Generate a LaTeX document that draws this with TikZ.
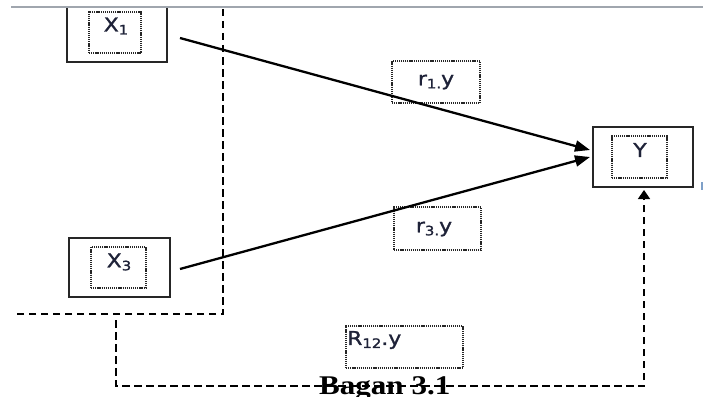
\documentclass[tikz,border=0pt]{standalone}
\usepackage{fontspec}
\usetikzlibrary{arrows.meta}
\newfontfamily\labfont[FakeStretch=1.15,FakeBold=1.3]{DejaVu Sans}
\newfontfamily\capfont[FakeStretch=1.15]{Liberation Serif}
\newcommand\sbx[1]{\raisebox{-3pt}{\fontsize{13}{13}\selectfont #1}}
\definecolor{txt}{HTML}{1E2238}
\definecolor{rulecol}{HTML}{A0A6AE}
\definecolor{markcol}{HTML}{7FA0C8}
\tikzset{
  outerbox/.style={draw=black!85, line width=1.4pt, inner sep=0pt},
  dotbox/.style={draw=black!85, line width=1.3pt, dash pattern=on 1.2pt off 0.9pt, inner sep=0pt},
  lab/.style={text=txt, font=\labfont\fontsize{19}{19}\selectfont, inner sep=0pt},
  conn/.style={line width=2.3pt, -{Triangle[length=15pt,width=11pt]}},
  dashln/.style={line width=1.5pt, dash pattern=on 7.5pt off 4.5pt},
}
\begin{document}
\begin{tikzpicture}[x=1pt,y=-1pt]
\useasboundingbox (0,0) rectangle (703,396);
\fill[white] (0,0) rectangle (703,396);
% boxes
\node[outerbox, minimum width=100pt, minimum height=67pt] (x1) at (117,28.5) {};
\fill[white] (60,-10) rectangle (175,7.8);
% top rule
\draw[rulecol, line width=1.6pt] (11,7) -- (703,7);
\node[dotbox, minimum width=52pt, minimum height=41pt] (x1i) at (115,32.5) {};
\node[lab] (x1t) at (116,26) {X\sbx{1}};

\node[outerbox, minimum width=101pt, minimum height=59pt] (x3) at (119.5,267.5) {};
\node[dotbox, minimum width=55pt, minimum height=41pt] (x3i) at (118.5,267.5) {};
\node[lab] (x3t) at (119,262) {X\sbx{3}};

\node[outerbox, minimum width=100pt, minimum height=60pt] (y) at (643,157) {};
\node[dotbox, minimum width=55pt, minimum height=42pt] (yi) at (639.5,157) {};
\node[lab] (yt) at (640,150) {Y};

\node[dotbox, minimum width=88pt, minimum height=42pt] (r1) at (436,82) {};
\node[lab] (r1t) at (436,82) {r\sbx{1.}y};
\node[dotbox, minimum width=87pt, minimum height=43pt] (r3) at (437.5,228.5) {};
\node[lab] (r3t) at (434,229) {r\sbx{3.}y};
\node[dotbox, minimum width=117pt, minimum height=42pt] (r12) at (404.5,347) {};
\node[lab, anchor=west] (r12t) at (347,340) {R\sbx{12}.y};

% dashed boundary
\coordinate (b1) at (223,9);
\coordinate (b2) at (223,314);
\coordinate (b3) at (17,314);
\draw[dashln] (b1) -- (b2) -- (b3);
% dashed joint path
\coordinate (c1) at (116,320);
\coordinate (c2) at (116,386);
\coordinate (c3) at (644,386);
\coordinate (c4) at (644,190);
\draw[dashln, -{Triangle[length=9pt,width=12pt]}] (c1) -- (c2) -- (c3) -- (c4);

% arrows
\coordinate (a1) at (180,38);
\coordinate (e1) at (590,150);
\coordinate (a3) at (180,269);
\coordinate (e3) at (590,157);
\draw[conn] (a1) -- (e1);
\draw[conn] (a3) -- (e3);

% caption
\node[anchor=base west, inner sep=0pt, font=\capfont\bfseries\fontsize{27}{27}\selectfont] (cap) at (319,394) {Bagan 3.1};
% small mark at right edge
\fill[markcol] (700.5,182) rectangle (703,190);
\end{tikzpicture}
\end{document}
